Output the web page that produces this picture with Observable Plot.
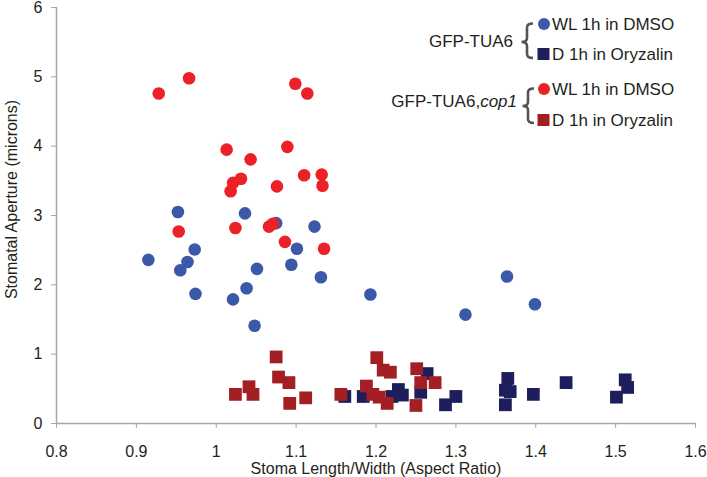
<!DOCTYPE html>
<html>
<head>
<meta charset="utf-8">
<script src="https://cdn.jsdelivr.net/npm/d3@7"></script>
<script src="https://cdn.jsdelivr.net/npm/@observablehq/plot@0.6"></script>
<style>
  html, body { margin: 0; padding: 0; background: #fff; }
  #wrap { position: relative; width: 707px; height: 477px; font-family: "Liberation Sans", Arial, sans-serif; }
  #legend { position: absolute; left: 0; top: 0; pointer-events: none; }
  svg.mainchart text { font-family: "Liberation Sans", Arial, sans-serif !important; font-size: 16px !important; }
</style>
</head>
<body>
<div id="wrap"></div>
<script>
// ---- data ----
const seriesNames = ["WL 1h in DMSO", "D 1h in Oryzalin", "WL 1h in DMSO", "D 1h in Oryzalin"];
const groupNames = ["GFP-TUA6", "GFP-TUA6,"];
const groupItalic = ["", "cop1"];
const seriesColors = ["#3b59a8", "#1e1e5c", "#ec2127", "#a31f24"];

// GFP-TUA6, WL 1h in DMSO (blue circles)
const blueX = [0.952,0.915,0.973,0.964,0.955,0.974,1.036,1.051,1.038,1.021,1.048,1.075,1.123,1.101,1.094,1.131,1.193,1.312,1.364,1.399];
const blueY = [3.05,2.36,2.51,2.33,2.21,1.87,3.03,2.23,1.95,1.79,1.41,2.89,2.84,2.52,2.29,2.11,1.86,1.57,2.12,1.72];
// GFP-TUA6, D 1h in Oryzalin (navy squares)
const navyX = [1.161,1.184,1.220,1.228,1.233,1.264,1.256,1.287,1.300,1.365,1.362,1.368,1.362,1.397,1.438,1.512,1.515,1.501];
const navyY = [0.39,0.39,0.39,0.49,0.41,0.72,0.45,0.27,0.39,0.65,0.48,0.46,0.27,0.42,0.59,0.63,0.52,0.38];
// GFP-TUA6,cop1, WL 1h in DMSO (red circles)
const redX = [0.928,0.966,1.099,1.114,1.013,1.089,1.043,1.031,1.021,1.018,1.076,1.110,1.132,1.133,0.953,1.024,1.066,1.071,1.086,1.135];
const redY = [4.76,4.98,4.90,4.76,3.95,3.99,3.81,3.53,3.47,3.35,3.42,3.58,3.59,3.43,2.77,2.82,2.84,2.88,2.62,2.52];
// GFP-TUA6,cop1, D 1h in Oryzalin (dark red squares)
const darkX = [1.075,1.078,1.091,1.041,1.024,1.046,1.092,1.112,1.156,1.201,1.209,1.218,1.188,1.196,1.204,1.214,1.251,1.256,1.274,1.250];
const darkY = [0.96,0.67,0.59,0.53,0.42,0.42,0.29,0.37,0.42,0.95,0.77,0.74,0.54,0.42,0.38,0.29,0.79,0.59,0.59,0.26];

const xTicks = [0.8,0.9,1.0,1.1,1.2,1.3,1.4,1.5,1.6];
const yTicks = [0,1,2,3,4,5,6];
const xLabel = "Stoma Length/Width (Aspect Ratio)";
const yLabel = "Stomatal Aperture (microns)";

const pts = (xs, ys) => xs.map((x, i) => ({x, y: ys[i]}));

const textColor = "#231f20";
const axisColor = "#a6a6a6";

const chart = Plot.plot({
  width: 707,
  height: 477,
  marginLeft: 56,
  marginRight: 12,
  marginTop: 7,
  marginBottom: 54,
  className: "mainchart",
  style: { fontFamily: "'Liberation Sans', Arial, sans-serif", fontSize: "16px", background: "#fff" },
  x: { domain: [0.8, 1.6] },
  y: { domain: [0, 6] },
  marks: [
    Plot.axisX(xTicks, { tickSize: 5, tickPadding: 17, stroke: axisColor, fill: textColor, fontSize: 16,
      tickFormat: d => String(+d.toFixed(1)), label: xLabel, labelAnchor: "center", labelArrow: "none", labelOffset: 50 }),
    Plot.axisY(yTicks, { tickSize: 5, tickPadding: 9, stroke: axisColor, fill: textColor, fontSize: 16,
      tickFormat: d => String(d), label: null }),
    Plot.text([yLabel], { text: d => d, frameAnchor: "left", rotate: -90, dx: -45, dy: -16,
      fill: textColor, fontSize: 16, textAnchor: "middle", lineAnchor: "middle" }),
    Plot.ruleY([0], { stroke: axisColor, strokeWidth: 1.5 }),
    Plot.ruleX([0.8], { stroke: axisColor, strokeWidth: 1.5 }),
    Plot.dot(pts(blueX, blueY), { x: "x", y: "y", r: 6.3, fill: seriesColors[0], symbol: "circle" }),
    Plot.dot(pts(navyX, navyY), { x: "x", y: "y", r: 7.2, fill: seriesColors[1], symbol: "square" }),
    Plot.dot(pts(redX, redY), { x: "x", y: "y", r: 6.3, fill: seriesColors[2], symbol: "circle" }),
    Plot.dot(pts(darkX, darkY), { x: "x", y: "y", r: 7.2, fill: seriesColors[3], symbol: "square" })
  ]
});
chart.classList.add("mainchart");

const wrap = document.getElementById("wrap");
wrap.appendChild(chart);

// ---- legend (overlay) ----
const leg = d3.select(wrap).append("svg")
  .attr("id", "legend").attr("width", 707).attr("height", 477)
  .style("font-family", "'Liberation Sans', Arial, sans-serif")
  .style("font-size", "17px");

const groups = [
  { top: 23.5, bottom: 58, tip: 42, spine: 527, textRight: 513, textY: 41.5 },
  { top: 88.5, bottom: 123, tip: 106, spine: 528, textRight: 517, textY: 101 }
];
const rowsY = [24, 54, 89, 120];

groups.forEach((g, gi) => {
  const s = g.spine, h = 6, p = 5.5;
  const path = `M${s+h},${g.top} Q${s},${g.top} ${s},${g.top+4} L${s},${g.tip-4} Q${s},${g.tip} ${s-p},${g.tip} Q${s},${g.tip} ${s},${g.tip+4} L${s},${g.bottom-4} Q${s},${g.bottom} ${s+h},${g.bottom}`;
  leg.append("path").attr("d", path).attr("fill", "none").attr("stroke", "#555").attr("stroke-width", 2.6);
  const t = leg.append("text").attr("x", g.textRight).attr("y", g.textY).attr("dy", "0.35em")
    .attr("text-anchor", "end").attr("fill", textColor);
  t.append("tspan").text(groupNames[gi]);
  if (groupItalic[gi]) t.append("tspan").attr("font-style", "italic").text(groupItalic[gi]);
});

seriesNames.forEach((name, i) => {
  const y = rowsY[i];
  if (i % 2 === 0) {
    leg.append("circle").attr("cx", 544).attr("cy", y).attr("r", 6).attr("fill", seriesColors[i]);
  } else {
    leg.append("rect").attr("x", 537.5).attr("y", y - 6).attr("width", 12).attr("height", 12).attr("fill", seriesColors[i]);
  }
  leg.append("text").attr("x", 552).attr("y", y).attr("dy", "0.35em").attr("fill", textColor).text(name);
});
</script>
</body>
</html>
